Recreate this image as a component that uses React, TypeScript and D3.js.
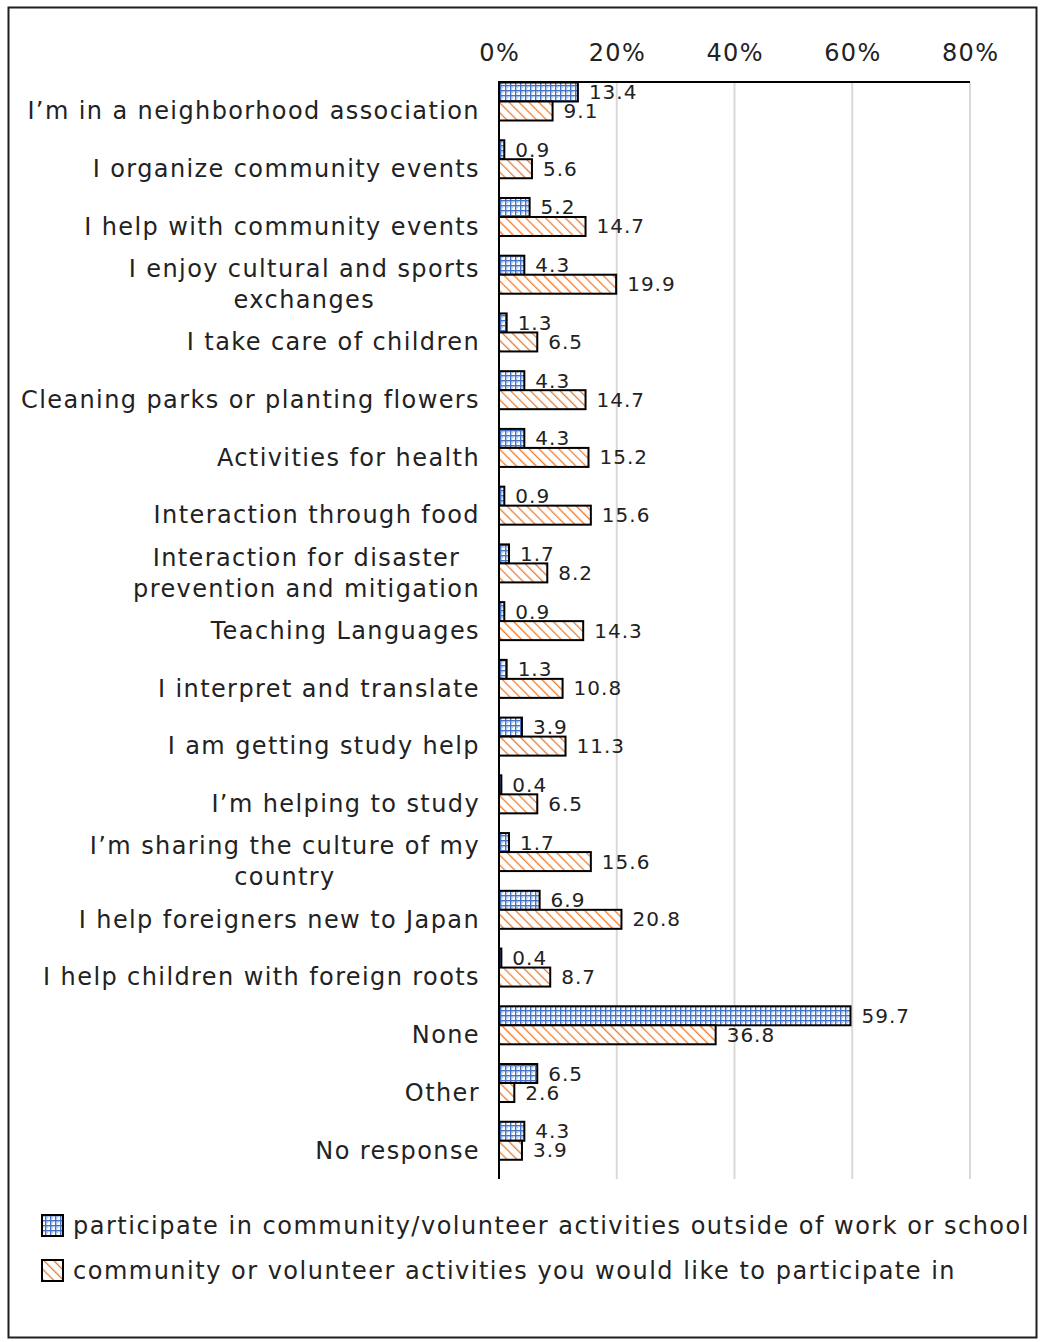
import React from "react";
import * as d3 from "d3";

const categories = [
  "I’m in a neighborhood association",
  "I organize community events",
  "I help with community events",
  "I enjoy cultural and sports\nexchanges",
  "I take care of children",
  "Cleaning parks or planting flowers",
  "Activities for health",
  "Interaction through food",
  "Interaction for disaster\nprevention and mitigation",
  "Teaching Languages",
  "I interpret and translate",
  "I am getting study help",
  "I’m helping to study",
  "I’m sharing the culture of my\ncountry",
  "I help foreigners new to Japan",
  "I help children with foreign roots",
  "None",
  "Other",
  "No response",
];
const participate = [13.4, 0.9, 5.2, 4.3, 1.3, 4.3, 4.3, 0.9, 1.7, 0.9, 1.3, 3.9, 0.4, 1.7, 6.9, 0.4, 59.7, 6.5, 4.3];
const wouldLike = [9.1, 5.6, 14.7, 19.9, 6.5, 14.7, 15.2, 15.6, 8.2, 14.3, 10.8, 11.3, 6.5, 15.6, 20.8, 8.7, 36.8, 2.6, 3.9];
const ticks = [0, 20, 40, 60, 80];
const legendLabels = [
  "participate in community/volunteer activities outside of work or school",
  "community or volunteer activities you would like to participate in",
];

const FONT = "'DejaVu Sans', sans-serif";
const BLUE = "#4472C4";
const ORANGE = "#ED7D31";

let ctx: CanvasRenderingContext2D | null = null;
function measure(text: string, size: number, ls: number): number {
  if (!ctx) {
    const c = document.createElement("canvas");
    ctx = c.getContext("2d");
  }
  if (!ctx) return text.length * (size * 0.6 + ls);
  ctx.font = `${size}px ${FONT}`;
  return ctx.measureText(text).width + ls * text.length;
}

export default function App() {
  const W = 1040;
  const H = 1342;
  const x = d3.scaleLinear().domain([0, 80]).range([499, 970]);
  const y = d3.scaleBand<string>().domain(categories).range([82, 1179]).padding(0);
  const bw = y.bandwidth();
  const barH = 19;
  const labelSize = 24;
  const labelLS = 1.4;
  const labelEnd = 480;

  return (
    <svg width={W} height={H} style={{ position: "absolute", left: 0, top: 0 }} fontFamily={FONT}>
      <defs>
        <pattern id="pBlue" width="5" height="5" patternUnits="userSpaceOnUse">
          <rect width="5" height="5" fill="#ffffff" />
          <rect x="0" y="0" width="5" height="1.4" fill={BLUE} />
          <rect x="0" y="0" width="1.4" height="5" fill={BLUE} />
          <rect x="2.2" y="2.2" width="1" height="1" fill="#7d9bd6" />
        </pattern>
        <pattern id="pOrange" width="7" height="7" patternUnits="userSpaceOnUse" patternTransform="rotate(-45)">
          <rect width="7" height="7" fill="#ffffff" />
          <line x1="0" y1="0" x2="0" y2="7" stroke={ORANGE} strokeWidth="2.6" />
        </pattern>
      </defs>
      <rect x={0} y={0} width={W} height={H} fill="#fff" />
      <rect x={8.5} y={7.5} width={1028} height={1330} fill="#fff" stroke="#1f1f1f" strokeWidth={2} />

      {ticks.slice(1).map((t) => (
        <line key={t} x1={x(t)} x2={x(t)} y1={82} y2={1179} stroke="#d9d9d9" strokeWidth={2} />
      ))}
      {ticks.map((t) => (
        <text key={t} x={x(t) + 0.7} y={61} textAnchor="middle" fontSize={24} letterSpacing={1.4} fill="#222">
          {t}%
        </text>
      ))}

      {categories.map((c, i) => {
        const y0 = y(c)!;
        return (
          <g key={c}>
            <rect x={x(0)} y={y0 + 0.5} width={x(participate[i]) - x(0)} height={barH} fill="url(#pBlue)" stroke="#000" strokeWidth={2} />
            <rect x={x(0)} y={y0 + 0.5 + barH} width={x(wouldLike[i]) - x(0)} height={barH} fill="url(#pOrange)" stroke="#000" strokeWidth={2} />
            <text x={x(participate[i]) + 11} y={y0 + 0.5 + barH / 2} dy="0.35em" fontSize={20} letterSpacing={1} fill="#222">
              {participate[i].toFixed(1)}
            </text>
            <text x={x(wouldLike[i]) + 11} y={y0 + 0.5 + barH * 1.5} dy="0.35em" fontSize={20} letterSpacing={1} fill="#222">
              {wouldLike[i].toFixed(1)}
            </text>
          </g>
        );
      })}

      <line x1={499} x2={970} y1={82} y2={82} stroke="#000" strokeWidth={2} />
      <line x1={499} x2={499} y1={81} y2={1179} stroke="#000" strokeWidth={2} />

      {categories.map((c) => {
        const lines = c.split("\n");
        const cy = y(c)! + bw / 2;
        const widths = lines.map((l) => measure(l, labelSize, labelLS));
        const maxW = Math.max(...widths);
        const mid = labelEnd - maxW / 2;
        const pitch = 31;
        return lines.map((l, j) => (
          <text
            key={c + j}
            x={mid}
            y={cy + (j - (lines.length - 1) / 2) * pitch}
            dy="0.35em"
            textAnchor="middle"
            fontSize={labelSize}
            letterSpacing={labelLS}
            fill="#222"
          >
            {l}
          </text>
        ));
      })}

      {legendLabels.map((l, i) => (
        <g key={l}>
          <rect x={42} y={1215 + i * 45} width={21} height={21} fill={i === 0 ? "url(#pBlue)" : "url(#pOrange)"} stroke="#000" strokeWidth={2} />
          <text x={73} y={1226 + i * 45} dy="0.35em" fontSize={24} letterSpacing={1.5} fill="#222">
            {l}
          </text>
        </g>
      ))}
    </svg>
  );
}
